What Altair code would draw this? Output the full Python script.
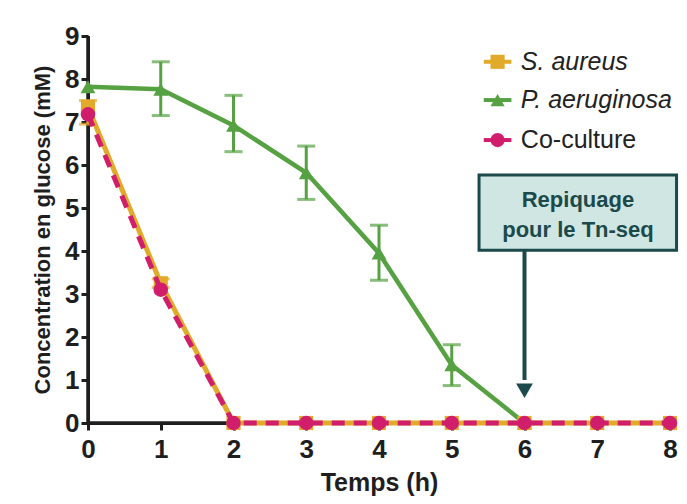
import altair as alt
import pandas as pd

# ---- data ----
temps = [0, 1, 2, 3, 4, 5, 6, 7, 8]
s_aureus = [7.35, 3.25, 0, 0, 0, 0, 0, 0, 0]
s_aureus_lo = [6.95, 3.15, 0, 0, 0, 0, 0, 0, 0]
s_aureus_hi = [7.5, 3.35, 0, 0, 0, 0, 0, 0, 0]
coculture = [7.18, 3.1, 0, 0, 0, 0, 0, 0, 0]

temps_pa = [0, 1, 2, 3, 4, 5, 6]
p_aeruginosa = [7.82, 7.76, 6.92, 5.82, 3.95, 1.35, 0]
p_aeruginosa_lo = [7.82, 7.15, 6.31, 5.2, 3.32, 0.87, 0]
p_aeruginosa_hi = [7.82, 8.4, 7.62, 6.44, 4.6, 1.82, 0]

y_ticks = [0, 1, 2, 3, 4, 5, 6, 7, 8, 9]

series_names = ["S. aureus", "P. aeruginosa", "Co-culture"]
series_colors = ["#E2AA2B", "#56A142", "#D11E6C"]
series_shapes = ["square", "triangle-up", "circle"]
legend_italic = ["italic", "italic", "normal"]

annot_lines = ["Repiquage", "pour le Tn-seq"]

FONT = "Liberation Sans"
DARK = "#1C4A4B"
AX = "#1E1E1E"

sa = pd.DataFrame({"t": temps, "v": s_aureus, "lo": s_aureus_lo, "hi": s_aureus_hi})
co = pd.DataFrame({"t": temps, "v": coculture})
pa = pd.DataFrame({"t": temps_pa, "v": p_aeruginosa, "lo": p_aeruginosa_lo, "hi": p_aeruginosa_hi})

xs = alt.Scale(domain=[temps[0], temps[-1]], nice=False, zero=False)
ys = alt.Scale(domain=[y_ticks[0], y_ticks[-1]], nice=False, zero=False)

common = dict(labelFont=FONT, labelFontSize=26, labelFontWeight="bold", labelColor=AX,
              titleFont=FONT, titleFontWeight="bold", titleColor=AX,
              domain=True, domainColor=AX, domainWidth=3, domainOpacity=1,
              ticks=True, tickColor=AX, tickWidth=3, tickSize=7, zindex=0,
              grid=False, labelFlush=False, labelOverlap=False)

xaxis = alt.Axis(values=temps, format="d", title="Temps (h)", titleFontSize=25,
                 labelPadding=6, titlePadding=8, **common)
yaxis = alt.Axis(values=y_ticks, format="d", title="Concentration en glucose (mM)",
                 titleFontSize=22, labelPadding=2, titlePadding=10, **common)

def X(f):
    return alt.X(f, type="quantitative", scale=xs, axis=xaxis)

def Y(f):
    return alt.Y(f, type="quantitative", scale=ys, axis=yaxis)

def errbars(df, color):
    base = alt.Chart(df)
    rule = base.mark_rule(color=color, strokeWidth=3).encode(x=X("t"), y=Y("lo"), y2="hi:Q")
    cap_lo = base.mark_tick(color=color, thickness=3, size=18, orient="horizontal").encode(
        x=X("t"), y=Y("lo"))
    cap_hi = base.mark_tick(color=color, thickness=3, size=18, orient="horizontal").encode(
        x=X("t"), y=Y("hi"))
    return rule + cap_lo + cap_hi

# axis lines, from the scales' domains
yline = pd.DataFrame({"x": [temps[0]], "y0": [y_ticks[0]], "y1": [y_ticks[-1]]})
y_domain_line = alt.Chart(yline).mark_rule(color=AX, strokeWidth=3.5).encode(
    x=X("x"), y=Y("y0"), y2="y1:Q")
xline = pd.DataFrame({"y": [y_ticks[0]], "x0": [temps[0]], "x1": [temps[-1]]})
x_domain_line = alt.Chart(xline).mark_rule(color=AX, strokeWidth=3.5).encode(
    y=Y("y"), x=X("x0"), x2="x1:Q")

sa_err = errbars(sa[sa["hi"] > sa["lo"]], series_colors[0])
pa_err = errbars(pa[pa["hi"] > pa["lo"]], series_colors[1])

sa_line = alt.Chart(sa).mark_line(color=series_colors[0], strokeWidth=5, clip=False).encode(x=X("t"), y=Y("v"))
sa_pts = alt.Chart(sa).mark_point(shape="square", filled=True, opacity=1, size=200,
                                  color=series_colors[0], clip=False).encode(x=X("t"), y=Y("v"))
pa_line = alt.Chart(pa).mark_line(color=series_colors[1], strokeWidth=4.5).encode(x=X("t"), y=Y("v"))
pa_pts = alt.Chart(pa).mark_point(shape="triangle-up", filled=True, opacity=1, size=220,
                                  color=series_colors[1]).encode(x=X("t"), y=Y("v"))
co_line = alt.Chart(co).mark_line(color=series_colors[2], strokeWidth=5, strokeDash=[13, 9],
                                  clip=False).encode(x=X("t"), y=Y("v"))
co_pts = alt.Chart(co).mark_point(shape="circle", filled=True, opacity=1, size=210,
                                  color=series_colors[2], clip=False).encode(x=X("t"), y=Y("v"))

# legend drawn as a data layer
leg = pd.DataFrame({"name": series_names, "color": series_colors, "shape": series_shapes,
                    "style": legend_italic, "lx": [5.63] * 3, "ly": [8.40, 7.51, 6.58],
                    "tx": [5.95] * 3})
leg_seg = alt.Chart(leg).transform_calculate(
    lx0="datum.lx - 0.19", lx1="datum.lx + 0.19").mark_rule(strokeWidth=4).encode(
    x=X("lx0"), x2="lx1:Q", y=Y("ly"), color=alt.Color("color:N", scale=None))
leg_pts = alt.Chart(leg).mark_point(filled=True, opacity=1, size=200).encode(
    x=X("lx"), y=Y("ly"), color=alt.Color("color:N", scale=None),
    shape=alt.Shape("shape:N", scale=None))
leg_txt_it = alt.Chart(leg[leg["style"] == "italic"]).mark_text(
    align="left", baseline="middle", font=FONT, fontSize=25, fontStyle="italic",
    color="#222").encode(x=X("tx"), y=Y("ly"), text="name:N")
leg_txt_n = alt.Chart(leg[leg["style"] == "normal"]).mark_text(
    align="left", baseline="middle", font=FONT, fontSize=25,
    color="#222").encode(x=X("tx"), y=Y("ly"), text="name:N")

# annotation box + arrow
box = pd.DataFrame({"x0": [5.375], "x1": [8.09], "y0": [4.02], "y1": [5.77]})
ann_box = alt.Chart(box).mark_rect(fill="#CFE6E2", stroke=DARK, strokeWidth=3).encode(
    x=X("x0"), x2="x1:Q", y=Y("y0"), y2="y1:Q")
txt = pd.DataFrame({"x": [6.735, 6.735], "y": [5.19, 4.49], "label": annot_lines})
ann_txt = alt.Chart(txt).mark_text(font=FONT, fontSize=22, fontWeight="bold",
                                   color=DARK, baseline="middle").encode(
    x=X("x"), y=Y("y"), text="label:N")
arr = pd.DataFrame({"x": [6.0], "y0": [4.02], "y1": [1.0], "tip": [0.75]})
ann_shaft = alt.Chart(arr).mark_rule(color=DARK, strokeWidth=4).encode(
    x=X("x"), y=Y("y0"), y2="y1:Q")
ann_head = alt.Chart(arr).mark_point(shape="triangle-down", filled=True, opacity=1,
                                     size=280, color=DARK).encode(x=X("x"), y=Y("tip"))

chart = alt.layer(
    y_domain_line, x_domain_line,
    pa_err, sa_err, pa_line, pa_pts, sa_line, sa_pts, co_line, co_pts,
    leg_seg, leg_pts, leg_txt_it, leg_txt_n,
    ann_box, ann_txt, ann_shaft, ann_head,
).properties(
    width=582, height=387,
    background="white",
    autosize=alt.AutoSizeParams(type="none"),
    padding={"left": 80, "top": 28, "right": 9, "bottom": 80},
).configure_view(stroke="transparent", strokeWidth=0)

chart.save("out.html", embed_options={"renderer": "svg", "actions": False})
